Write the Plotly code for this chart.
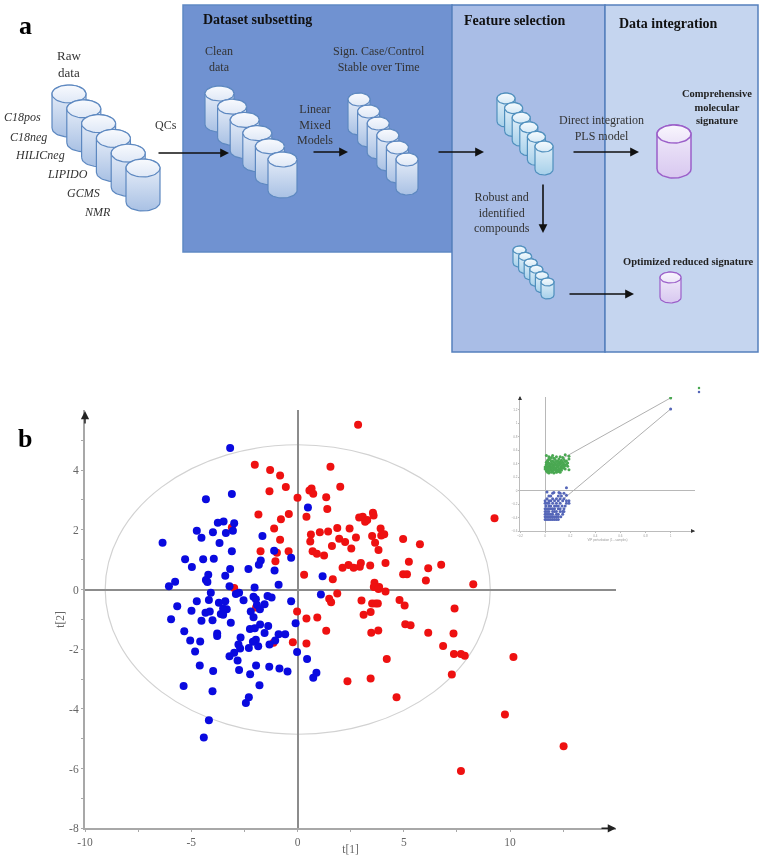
import numpy as np
import plotly.graph_objects as go

# ---------- score plot data (panel b) ----------
red_t1 = [-2.01,-1.29,-0.82,-0.55,-1.32,0.0,-1.84,-0.41,-0.78,-1.10,-3.09,-0.82,-1.74,-0.97,-0.42,-1.04,-2.98,
          -0.02,-0.22,-1.13,-1.95,
          2.85,1.55,2.01,0.66,0.56,0.74,1.35,1.40,0.42,3.55,3.58,2.90,3.07,3.28,3.18,9.27,3.91,1.87,2.45,1.44,1.05,
          0.63,3.94,4.08,3.51,1.96,2.75,0.60,2.24,4.97,3.65,5.76,1.62,2.53,3.81,0.71,0.91,1.25,5.24,4.14,2.98,2.40,
          2.93,2.64,2.12,3.42,6.76,6.15,0.31,4.97,5.15,1.66,6.04,8.27,3.62,3.59,3.84,3.81,1.87,4.14,1.49,1.58,3.01,
          4.80,5.04,3.51,3.67,3.78,3.44,7.39,
          3.11,0.42,0.93,5.07,5.32,1.35,3.47,3.80,6.15,7.34,0.42,6.85,7.36,7.69,7.87,10.16,4.20,7.26,3.44,2.35,4.66,
          9.76,12.52,7.69]
red_t2 = [4.18,4.00,3.82,3.43,3.29,3.07,2.51,2.53,2.35,2.04,2.08,1.67,1.28,1.23,1.28,0.95,0.05,
          -0.74,-1.77,-1.78,-0.60,
          5.52,4.11,3.44,3.38,3.32,3.21,3.09,2.70,2.44,2.57,2.48,2.41,2.44,2.33,2.27,2.39,2.04,2.06,2.04,1.94,1.92,
          1.84,1.81,1.85,1.79,1.70,1.74,1.61,1.59,1.69,1.57,1.52,1.46,1.37,1.32,1.28,1.20,1.14,0.93,0.89,0.89,0.82,
          0.76,0.73,0.73,0.80,0.83,0.71,0.49,0.51,0.51,0.34,0.30,0.18,0.23,0.08,0.08,0.02,-0.13,-0.07,-0.31,-0.43,-0.37,
          -0.35,-0.54,-0.47,-0.47,-0.47,-0.75,-0.64,
          -0.85,-0.97,-0.94,-1.16,-1.20,-1.38,-1.45,-1.37,-1.45,-1.47,-1.81,-1.89,-2.16,-2.16,-2.22,-2.26,-2.33,-2.85,
          -2.98,-3.07,-3.61,-4.19,-5.25,-6.08]
blue_t1 = [-3.17,-3.09,-4.31,-3.48,-3.75,-2.98,-4.74,-3.04,-3.98,-3.37,-4.52,-1.65,-6.35,-3.67,-3.09,-1.10,-0.30,
           -5.29,-4.44,-3.94,-1.73,-1.82,-4.97,-3.17,-2.31,-1.08,-4.20,-3.40,-4.31,-4.24,-5.76,-6.05,-3.20,-2.02,-0.89,
           -4.08,-2.75,-2.90,-4.17,-4.74,-3.40,-3.70,-2.54,-2.07,-1.96,-1.41,-1.22,-1.55,-1.91,-1.77,-5.66,-0.30,-4.99,
           -4.33,-4.13,-3.33,-3.50,-3.61,-3.50,-2.20,-2.07,-5.95,-4.52,-4.00,-3.14,-1.76,-1.38,-0.09,-2.24,-2.01,-5.33,
           -3.78,-3.78,-1.55,-0.89,-0.58,-2.68,-5.05,-4.58,-1.96,-2.10,-1.05,-1.32,-2.78,-1.85,-2.29,-2.70,-4.82,-2.98,
           -0.02,-3.20,-2.82,-4.60,-1.95,-1.33,-0.85,-0.47,-2.75,-3.97,-2.23,-1.79,-5.36,-4.00,-2.29,-2.43,-4.17,-4.41,
           0.49,1.18,1.10,0.45,0.89,0.74]
blue_t2 = [4.74,3.20,3.02,2.28,2.24,2.22,1.97,1.97,1.92,1.89,1.73,1.79,1.57,1.56,1.28,1.30,1.06,
           1.01,1.01,1.03,0.97,0.83,0.75,0.69,0.69,0.64,0.49,0.46,0.32,0.25,0.26,0.11,0.11,0.07,0.16,
           -0.11,-0.11,-0.15,-0.35,-0.39,-0.39,-0.44,-0.36,-0.24,-0.33,-0.22,-0.27,-0.49,-0.52,-0.66,-0.56,-0.39,-0.71,
           -0.78,-0.74,-0.66,-0.64,-0.82,-0.85,-0.74,-0.93,-1.00,-1.05,-1.03,-1.11,-1.17,-1.22,-1.13,-1.32,-1.30,-1.40,
           -1.47,-1.56,-1.46,-1.50,-1.50,-1.61,-1.71,-1.74,-1.68,-1.75,-1.71,-1.84,-1.84,-1.90,-1.96,-1.98,-2.08,-2.12,
           -2.09,-2.24,-2.38,-2.55,-2.55,-2.59,-2.65,-2.75,-2.70,-2.73,-2.84,-3.21,-3.23,-3.41,-3.61,-3.80,-4.38,-4.96,
           2.75,0.44,-0.17,-2.33,-2.79,-2.96]
ellipse_t1 = [-9.05, 9.07]
ellipse_t2 = [-4.85, 4.85]
x_ticks = [-10, -5, 0, 5, 10]
x_labels = ["-10", "-5", "0", "5", "10"]
y_ticks = [-8, -6, -4, -2, 0, 2, 4]
y_labels = ["-8", "-6", "-4", "-2", "0", "2", "4"]
x_minor = [-7.5, -2.5, 2.5, 7.5, 12.5]
y_minor = [-7, -5, -3, -1, 1, 3, 5]

# ---------- inset loading plot data ----------
green_x = [.01,.03,.05,.06,.09,.12,.16,.19,.03,.07,
           .11,.14,.19,.02,.04,.06,.08,.10,.13,.15,
           .17,.01,.02,.03,.05,.07,.09,.11,.12,.14,
           .16,.18,.01,.02,.04,.05,.06,.08,.09,.10,
           .12,.13,.15,.17,.01,.03,.04,.06,.07,.08,
           .10,.11,.13,.14,.16,.18,.00,.01,.02,.03,
           .05,.06,.07,.09,.10,.12,.13,.15,.00,.01,
           .02,.04,.05,.07,.08,.09,.11,.12,.14,.16,
           .01,.02,.03,.04,.06,.08,.09,.10,.11,.13,
           .02,.03,.05,.06,.07,.09,.10,.12,.19,.03]
green_y = [.52,.50,.49,.52,.50,.50,.53,.51,.47,.48,
           .47,.49,.47,.45,.46,.44,.46,.44,.45,.46,
           .44,.42,.43,.41,.43,.42,.43,.41,.43,.42,
           .43,.41,.39,.40,.38,.40,.39,.40,.38,.40,
           .39,.41,.39,.39,.37,.37,.36,.37,.36,.38,
           .36,.37,.36,.38,.37,.36,.35,.34,.35,.34,
           .35,.33,.35,.34,.35,.33,.34,.35,.32,.31,
           .32,.33,.31,.32,.33,.31,.32,.31,.33,.32,
           .29,.30,.28,.30,.29,.30,.28,.30,.29,.30,
           .27,.26,.27,.28,.26,.27,.28,.27,.31,.33]
navy_x = [.00,.015,.03,.045,.06,.075,.09,.105,
          .00,.015,.03,.045,.06,.075,.09,.105,.125,
          .00,.015,.03,.045,.06,.09,.105,.14,
          .00,.015,.03,.06,.075,.09,.12,.14,.15,
          .00,.015,.03,.045,.06,.075,.105,.12,.15,
          .005,.03,.045,.075,.09,.105,.135,.16,
          .00,.015,.03,.06,.09,.12,.17,.19,
          .00,.03,.045,.075,.105,.14,.17,.19,
          .015,.06,.09,.12,.15,
          .03,.045,.105,.13,.17,
          .06,.12,.15,.07,.11,.015,.17]
navy_y = [-.43,-.43,-.43,-.43,-.43,-.43,-.43,-.43,
          -.39,-.39,-.39,-.39,-.39,-.39,-.39,-.39,-.39,
          -.35,-.35,-.35,-.35,-.35,-.35,-.35,-.35,
          -.31,-.31,-.31,-.31,-.31,-.31,-.31,-.31,-.31,
          -.27,-.27,-.27,-.27,-.27,-.27,-.27,-.27,-.27,
          -.23,-.23,-.23,-.23,-.23,-.23,-.23,-.23,
          -.19,-.19,-.19,-.19,-.19,-.19,-.19,-.19,
          -.15,-.15,-.15,-.15,-.15,-.15,-.15,-.15,
          -.12,-.12,-.12,-.12,-.12,
          -.08,-.08,-.08,-.08,-.07,
          -.04,-.04,-.04,-.03,-.03,-.02,.04]
green_link_x = [.146, 1.0]
green_link_y = [.485, 1.375]
navy_link_x = [.146, 1.0]
navy_link_y = [-.125, 1.21]
inset_x_ticks = [-.2, 0, .2, .4, .6, .8, 1]
inset_y_ticks = [-.6, -.4, -.2, 0, .2, .4, .6, .8, 1, 1.2]

W, H = 762, 855
SERIF = "Liberation Serif"
fig = go.Figure()

def px_x(a, b):
    return [a / W, b / W]
def px_y(top, bot):
    return [(H - bot) / H, (H - top) / H]

# ---------- schematic (panel a) helpers, in page pixels on a hidden axis pair ----------
def cylinder(x0, x1, ytop, ybot, eh, body, top, line, lw=1.2):
    cx, rx, ry = (x0 + x1) / 2, (x1 - x0) / 2, eh / 2
    a = np.linspace(np.pi, 0, 30)
    bx = cx + rx * np.cos(a)
    lower = ybot - ry + ry * np.sin(a)
    upper = ytop + ry - ry * np.sin(a[::-1])
    xs = np.r_[bx, bx[::-1], bx[0]]
    ys = np.r_[lower, upper, lower[0]]
    fig.add_trace(go.Scatter(x=xs, y=ys, xaxis="x2", yaxis="y2", mode="lines", fill="toself",
                             line=dict(color=line, width=lw),
                             fillgradient=dict(type="vertical", colorscale=[[0, body[0]], [1, body[1]]]),
                             hoverinfo="skip", showlegend=False))
    t = np.linspace(0, 2 * np.pi, 50)
    fig.add_trace(go.Scatter(x=cx + rx * np.cos(t), y=ytop + ry + ry * np.sin(t), xaxis="x2", yaxis="y2",
                             mode="lines", fill="toself", line=dict(color=line, width=lw),
                             fillgradient=dict(type="vertical", colorscale=[[0, top[0]], [1, top[1]]]),
                             hoverinfo="skip", showlegend=False))

def stack(first, last, eh, body, top, line, n=6):
    for i in range(n):
        f = i / (n - 1) if n > 1 else 0
        x0 = first[0] + (last[0] - first[0]) * f
        ytop = first[1] + (last[1] - first[1]) * f
        cylinder(x0, x0 + first[2], ytop, ytop + first[3], eh, body, top, line)

BLUE_BODY = ("#a9c1e4", "#eef3fb")
BLUE_TOP = ("#dfe8f6", "#f8fafe")
CYAN_BODY = ("#a6d0ea", "#eaf4fb")
CYAN_TOP = ("#d5e9f6", "#f6fbfe")
PURPLE_BODY = ("#d8c8f0", "#f3eefb")
PURPLE_TOP = ("#ece4f8", "#f9f6fe")
BLUE_LINE, CYAN_LINE, PURPLE_LINE = "#5d88c0", "#4f8fbd", "#9b5fc9"

stack((52, 85, 34, 52), (126, 159), 18, BLUE_BODY, BLUE_TOP, BLUE_LINE)
stack((205, 86, 29, 46), (268, 152), 15, BLUE_BODY, BLUE_TOP, BLUE_LINE)
stack((348, 93, 22, 42), (396, 153), 13, BLUE_BODY, BLUE_TOP, BLUE_LINE)
stack((497, 93, 18, 34), (535, 141), 11, CYAN_BODY, CYAN_TOP, CYAN_LINE)
stack((513, 246, 13, 21), (541, 278), 8, CYAN_BODY, CYAN_TOP, CYAN_LINE)
cylinder(657, 691, 125, 178, 18, PURPLE_BODY, PURPLE_TOP, PURPLE_LINE, 1.5)
cylinder(660, 681, 272, 303, 11, PURPLE_BODY, PURPLE_TOP, PURPLE_LINE, 1.2)

# ---------- panel b score plot ----------
fig.add_trace(go.Scatter(x=red_t1, y=red_t2, mode="markers", xaxis="x", yaxis="y", showlegend=False,
                         marker=dict(color="#ee1111", size=8, line=dict(width=0)), name="Case"))
fig.add_trace(go.Scatter(x=blue_t1, y=blue_t2, mode="markers", xaxis="x", yaxis="y", showlegend=False,
                         marker=dict(color="#0a0adf", size=8, line=dict(width=0)), name="Control"))

# ---------- inset ----------
LG, LB = "#4aa852", "#5566b8"
fig.add_trace(go.Scatter(x=green_link_x, y=green_link_y, mode="lines", xaxis="x3", yaxis="y3", showlegend=False,
                         line=dict(color="#b0b0b0", width=1)))
fig.add_trace(go.Scatter(x=navy_link_x, y=navy_link_y, mode="lines", xaxis="x3", yaxis="y3", showlegend=False,
                         line=dict(color="#b0b0b0", width=1)))
fig.add_trace(go.Scatter(x=green_x + green_link_x[1:], y=green_y + green_link_y[1:], mode="markers", xaxis="x3",
                         yaxis="y3", showlegend=False, marker=dict(color=LG, size=3, line=dict(width=0))))
fig.add_trace(go.Scatter(x=navy_x + navy_link_x[1:], y=navy_y + navy_link_y[1:], mode="markers", xaxis="x3",
                         yaxis="y3", showlegend=False, marker=dict(color=LB, size=3, line=dict(width=0))))
fig.add_trace(go.Scatter(x=[699, 699], y=[388, 392], mode="markers", xaxis="x2", yaxis="y2", showlegend=False,
                         marker=dict(color=[LG, LB], size=2.5, line=dict(width=0))))

# ---------- panels ----------
shapes = [
    dict(type="rect", xref="x2", yref="y2", x0=183, x1=452, y0=5, y1=252, layer="below",
         fillcolor="#7092d1", line=dict(color="#5f89c4", width=1.5)),
    dict(type="rect", xref="x2", yref="y2", x0=452, x1=605, y0=5, y1=352, layer="below",
         fillcolor="#a9bde6", line=dict(color="#5580bd", width=1.5)),
    dict(type="rect", xref="x2", yref="y2", x0=605, x1=758, y0=5, y1=352, layer="below",
         fillcolor="#c5d5ef", line=dict(color="#5580bd", width=1.5)),
    dict(type="circle", xref="x", yref="y", x0=ellipse_t1[0], x1=ellipse_t1[1], y0=ellipse_t2[0], y1=ellipse_t2[1],
         layer="below", line=dict(color="#d2d2d2", width=1.2)),
]

# ---------- texts ----------
def note(x, y, text, size=12, bold=False, italic=False, color="#333333", align="center", xanchor="center"):
    if bold:
        text = "<b>" + text.replace("<br>", "</b><br><b>") + "</b>"
    if italic:
        text = "<i>" + text + "</i>"
    return dict(x=x, y=y, xref="x2", yref="y2", text=text, showarrow=False, align=align, xanchor=xanchor,
                yanchor="middle", font=dict(family=SERIF, size=size, color=color))

def arrow(x0, y0, x1, y1, color="#111111", width=1.6, size=1.1):
    return dict(x=x1, y=y1, ax=x0, ay=y0, xref="x2", yref="y2", axref="x2", ayref="y2", text="", showarrow=True,
                arrowhead=2, arrowwidth=width, arrowsize=size, arrowcolor=color)

annotations = [
    note(25, 25, "a", 26, bold=True, color="#000000"),
    note(25, 438, "b", 26, bold=True, color="#000000"),
    note(69, 63.5, "Raw<br>data", 13),
    note(22, 117, "C18pos", 12, italic=True), note(28, 137, "C18neg", 12, italic=True),
    note(40, 155, "HILICneg", 12, italic=True), note(67, 174, "LIPIDO", 12, italic=True),
    note(83, 193, "GCMS", 12, italic=True), note(97, 212, "NMR", 12, italic=True),
    note(166, 125, "QCs", 12),
    note(201, 19, "Dataset subsetting", 14, bold=True, color="#111111", xanchor="left"),
    note(219, 58.5, "Clean<br>data", 12),
    note(379, 59, "Sign. Case/Control<br>Stable over Time", 12),
    note(315, 124, "Linear<br>Mixed<br>Models", 12),
    note(462, 20, "Feature selection", 14, bold=True, color="#111111", xanchor="left"),
    note(617, 23, "Data integration", 14, bold=True, color="#111111", xanchor="left"),
    note(717, 107, "Comprehensive<br>molecular<br>signature", 10.5, bold=True, color="#222222"),
    note(601, 128, "Direct integration<br>PLS model", 12),
    note(502, 212, "Robust and<br>identified<br>compounds", 12),
    note(688, 261, "Optimized reduced signature", 10.5, bold=True, color="#222222"),
    arrow(157, 153, 229, 153), arrow(312, 152, 348, 152), arrow(437, 152, 484, 152), arrow(572, 152, 639, 152),
    arrow(543, 183, 543, 233), arrow(568, 294, 634, 294),
    arrow(85, 425, 85, 411, "#222222", 1.5, 1.1), arrow(600, 828.3, 616, 828.3, "#222222", 1.5, 1.1),
    arrow(520, 400, 520, 396, "#333333", 0.8, 1), arrow(691, 531, 695, 531, "#333333", 0.8, 1),
]

TICKFONT = dict(family=SERIF, size=11.5, color="#666666")
fig.update_layout(
    width=W, height=H, margin=dict(l=0, r=0, t=0, b=0, autoexpand=False), autosize=False, showlegend=False,
    paper_bgcolor="white", plot_bgcolor="rgba(0,0,0,0)", hovermode=False,
    shapes=shapes, annotations=annotations,
    xaxis=dict(domain=px_x(85, 616.3), range=[-10, 15], anchor="y", showgrid=False, zeroline=True,
               zerolinecolor="#8c8c8c", zerolinewidth=2, showline=True, linecolor="#a8a8a8", linewidth=2,
               tickmode="array", tickvals=x_ticks, ticktext=x_labels, ticks="outside", ticklen=2, tickcolor="#a8a8a8", tickfont=TICKFONT,
               minor=dict(tickmode="array", tickvals=x_minor, ticks="outside", ticklen=2, tickcolor="#a8a8a8"),
               title=dict(text="t[1]", font=TICKFONT, standoff=1)),
    yaxis=dict(domain=px_y(410.4, 828.3), range=[-8, 6], anchor="x", showgrid=False, zeroline=True,
               zerolinecolor="#8c8c8c", zerolinewidth=2, showline=True, linecolor="#a8a8a8", linewidth=2,
               tickmode="array", tickvals=y_ticks, ticktext=y_labels, ticks="outside", ticklen=2, tickcolor="#a8a8a8", tickfont=TICKFONT,
               minor=dict(tickmode="array", tickvals=y_minor, ticks="outside", ticklen=2, tickcolor="#a8a8a8"),
               title=dict(text="t[2]", font=TICKFONT, standoff=2)),
    xaxis2=dict(domain=[0, 1], range=[0, W], anchor="y2", visible=False, fixedrange=True),
    yaxis2=dict(domain=[0, 1], range=[H, 0], anchor="x2", visible=False, fixedrange=True),
    xaxis3=dict(domain=px_x(520, 695), range=[-.2, 1.194], anchor="y3", showgrid=False, zeroline=True,
                zerolinecolor="#b8b8b8", zerolinewidth=1, showline=True, linecolor="#bcbcbc", linewidth=1,
                tickmode="array", tickvals=inset_x_ticks, ticks="outside", ticklen=1, tickcolor="#bcbcbc",
                tickfont=dict(family="Liberation Sans", size=3, color="#999999"),
                title=dict(text="VIP perturbation (1 - samples)", font=dict(family="Liberation Sans", size=3, color="#999999"), standoff=1)),
    yaxis3=dict(domain=px_y(397, 531), range=[-.6, 1.388], anchor="x3", showgrid=False, zeroline=True,
                zerolinecolor="#b8b8b8", zerolinewidth=1, showline=True, linecolor="#bcbcbc", linewidth=1,
                tickmode="array", tickvals=inset_y_ticks, ticks="outside", ticklen=1, tickcolor="#bcbcbc",
                tickfont=dict(family="Liberation Sans", size=3, color="#999999")),
)
fig.write_html("out.html", config={"displayModeBar": False},
               post_script="document.body.style.margin='0';document.documentElement.style.overflow='hidden';"
                           "document.querySelector('.plotly-graph-div').style.filter='blur(0.4px)';")
